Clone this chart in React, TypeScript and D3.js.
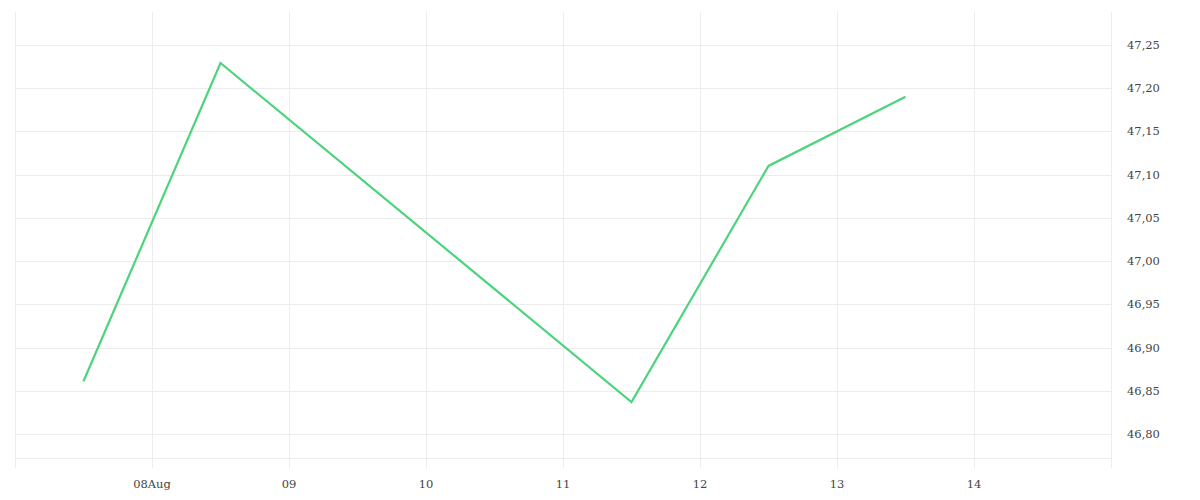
import React from "react";
import * as d3 from "d3";

const dates = ["2023-08-07T12:00", "2023-08-08T12:00", "2023-08-11T12:00", "2023-08-12T12:00", "2023-08-13T12:00"];
const values = [46.861, 47.229, 46.837, 47.11, 47.19];
const yTicks = [46.8, 46.85, 46.9, 46.95, 47.0, 47.05, 47.1, 47.15, 47.2, 47.25];
const xTickDays = ["2023-08-07", "2023-08-08", "2023-08-09", "2023-08-10", "2023-08-11", "2023-08-12", "2023-08-13", "2023-08-14", "2023-08-15"];
const xTickLabels = ["", "08Aug", "09", "10", "11", "12", "13", "14", ""];

export default function App() {
  const W = 1200, H = 500;
  const left = 15, right = 1111, top = 12, bottom = 466;
  const parse = d3.timeParse("%Y-%m-%dT%H:%M");
  const parseDay = d3.timeParse("%Y-%m-%d");
  const x = d3.scaleTime()
    .domain([parseDay("2023-08-07")!, parseDay("2023-08-15")!])
    .range([left, right]);
  const y = d3.scaleLinear().domain([46.763, 47.288]).range([bottom, top]);
  const pts = dates.map((d, i) => [x(parse(d)!), y(values[i])] as [number, number]);
  const line = d3.line()(pts) || "";
  const fmt = (v: number) => v.toFixed(2).replace(".", ",");
  const font = "'DejaVu Serif', serif";
  return (
    <svg width={W} height={H} style={{ position: "absolute", left: 0, top: 0 }}>
      <rect width={W} height={H} fill="#fff" />
      {xTickDays.map((d, i) => {
        const xx = Math.round(x(parseDay(d)!)) + 0.5;
        return <line key={"v" + i} x1={xx} x2={xx} y1={top} y2={bottom + 2} stroke="#ececec" strokeWidth={1} />;
      })}
      {yTicks.map((v, i) => {
        const yy = Math.round(y(v)) + 0.5;
        return <line key={"h" + i} x1={left} x2={right} y1={yy} y2={yy} stroke="#ececec" strokeWidth={1} />;
      })}
      <line x1={left} x2={right} y1={458.5} y2={458.5} stroke="#ececec" strokeWidth={1} />
      {xTickDays.map((d, i) =>
        xTickLabels[i] ? (
          <text key={"xl" + i} x={x(parseDay(d)!)} y={488} textAnchor="middle" fontFamily={font} fontSize={11.5} fill="#444">
            {xTickLabels[i]}
          </text>
        ) : null
      )}
      {yTicks.map((v, i) => (
        <text key={"yl" + i} x={1127} y={y(v) + 4} fontFamily={font} fontSize={11.5} fill="#444">
          {fmt(v)}
        </text>
      ))}
      <path d={line} fill="none" stroke="#4cd47c" strokeWidth={2.2} strokeLinejoin="miter" />
    </svg>
  );
}
